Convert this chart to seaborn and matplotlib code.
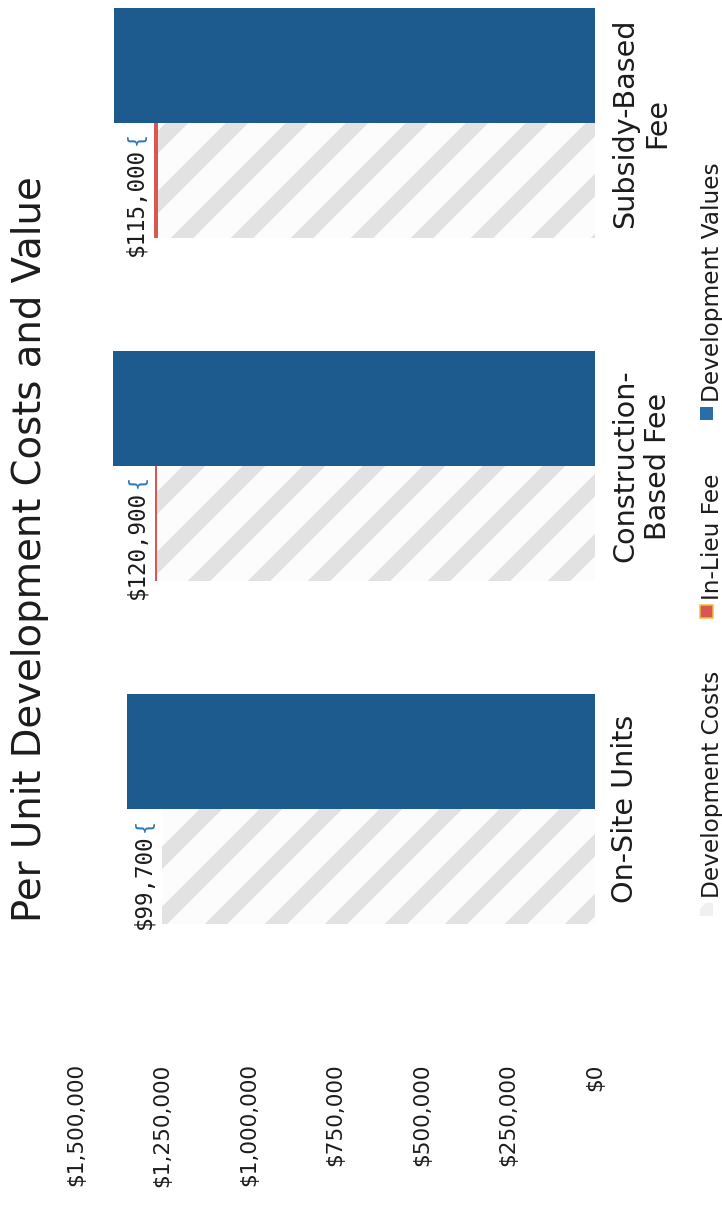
import matplotlib
matplotlib.use("Agg")
import matplotlib.pyplot as plt
from matplotlib.patches import Rectangle
from matplotlib.ticker import FuncFormatter
from matplotlib.transforms import offset_copy
import pandas as pd
import seaborn as sns

# ---- data -------------------------------------------------------------
categories = ["Subsidy-Based\nFee", "Construction-\nBased Fee", "On-Site Units"]
development_values = [1390000, 1393000, 1352000]
development_costs = [1262000, 1266100, 1252300]
in_lieu_fee = [13000, 6000, 0]
value_ticks = [0, 250000, 500000, 750000, 1000000, 1250000, 1500000]
series_names = ["Development Costs", "In-Lieu Fee", "Development Values"]
title = "Per Unit Development Costs and Value"

# ---- styling ----------------------------------------------------------
W, H, DPI = 722, 1213, 360


def pt(px):
    """pixel size -> points at the figure dpi"""
    return px * 72 / DPI


def fx(x):
    return x / W


def fy(y):
    return 1 - y / H


BLUE = "#1d5a8e"
BLUE_SWATCH = "#2a6ea8"
FEE_RED = "#d9574f"
HATCH_GREY = "#e2e2e2"
HATCH_FACE = "#fcfcfc"
TEXT = "#1c1c1c"
BRACE = "#2b78b8"

sns.set_theme(style="white")
plt.rcParams["font.family"] = ["DejaVu Sans"]
plt.rcParams["hatch.linewidth"] = pt(16)

fig = plt.figure(figsize=((W + 0.3) / DPI, (H + 0.3) / DPI), dpi=DPI)
fig.patch.set_facecolor("white")
ax = fig.add_axes([fx(76), fy(1055), (595 - 76) / W, 1055 / H])

# costs bars are drawn at full height (costs + fee) in the fee colour,
# then the costs part is covered by the hatched bar so the fee shows at the tip
totals = [c + f for c, f in zip(development_costs, in_lieu_fee)]
df = pd.DataFrame({
    "Category": categories * 2,
    "Series": ["Development Values"] * len(categories)
    + ["Development Costs"] * len(categories),
    "Amount": development_values + totals,
})

sns.barplot(data=df, x="Amount", y="Category", hue="Series",
            hue_order=["Development Values", "Development Costs"],
            order=categories, palette=[BLUE, FEE_RED], width=0.67,
            saturation=1, orient="h", errorbar=None, legend=False,
            linewidth=0, ax=ax)

cost_bars = sorted(ax.containers[1], key=lambda b: b.get_y())
for bar, cost in zip(cost_bars, development_costs):
    ax.barh(bar.get_y() + bar.get_height() / 2, cost, height=bar.get_height(),
            facecolor=HATCH_FACE, edgecolor=HATCH_GREY, linewidth=0,
            hatch="//", zorder=bar.get_zorder() + 0.1)

# gap between value and total cost, written above each cost bar
for i, (v, t) in enumerate(zip(development_values, totals)):
    gap = v - t
    ax.text(t, i, "{", rotation=90, ha="center", va="top", color=BRACE,
            family="DejaVu Sans Mono", fontsize=pt(22),
            transform=offset_copy(ax.transData, fig=fig, x=-18, y=-9, units="dots"))
    ax.text(t, i, f"${gap:,.0f}", rotation=90, ha="center", va="top",
            color=TEXT, family="DejaVu Sans Mono", fontsize=pt(22.5),
            transform=offset_copy(ax.transData, fig=fig, x=-18, y=-25, units="dots"))

# ---- axes ---------------------------------------------------------------
ax.set_xlim(1500000, 0)
ax.set_ylim(2.717, -0.3586)
ax.set_xticks(value_ticks)
ax.xaxis.set_major_formatter(FuncFormatter(lambda v, p: f"${v:,.0f}"))
ax.tick_params(axis="x", length=0, pad=pt(8), labelsize=pt(21.7),
               labelrotation=90, labelcolor=TEXT)
ax.yaxis.tick_right()
ax.tick_params(axis="y", length=0, pad=pt(16), labelsize=pt(28.6),
               labelrotation=90, labelcolor=TEXT)
for lbl in ax.get_yticklabels():
    lbl.set_va("center")
    lbl.set_ha("left")
    lbl.set_multialignment("center")
ax.set_xlabel("")
ax.set_ylabel("")
ax.grid(False)
for s in ax.spines.values():
    s.set_visible(False)
ax.set_facecolor("white")

# ---- title --------------------------------------------------------------
fig.text(fx(30), fy(549), title, rotation=90, ha="center", va="center",
         fontsize=pt(38.7), color=TEXT)

# ---- legend (runs along the right edge) -----------------------------------
legend_fs = pt(23.3)
swatches = [
    (series_names[0], 903, dict(facecolor="white", edgecolor="#f0f0f0",
                                linewidth=0, hatch="//")),
    (series_names[1], 605, dict(facecolor=FEE_RED, edgecolor="#f0c040",
                                linewidth=pt(1.5))),
    (series_names[2], 407, dict(facecolor=BLUE_SWATCH, linewidth=0)),
]
for name, sy, style in swatches:
    fig.add_artist(Rectangle((fx(700), fy(sy + 13)), 13 / W, 13 / H,
                             transform=fig.transFigure, **style))
    fig.text(fx(712), fy(sy - 5), name, rotation=90, ha="center", va="bottom",
             fontsize=legend_fs, color=TEXT)

fig.savefig("out.png", dpi=DPI, facecolor="white")
